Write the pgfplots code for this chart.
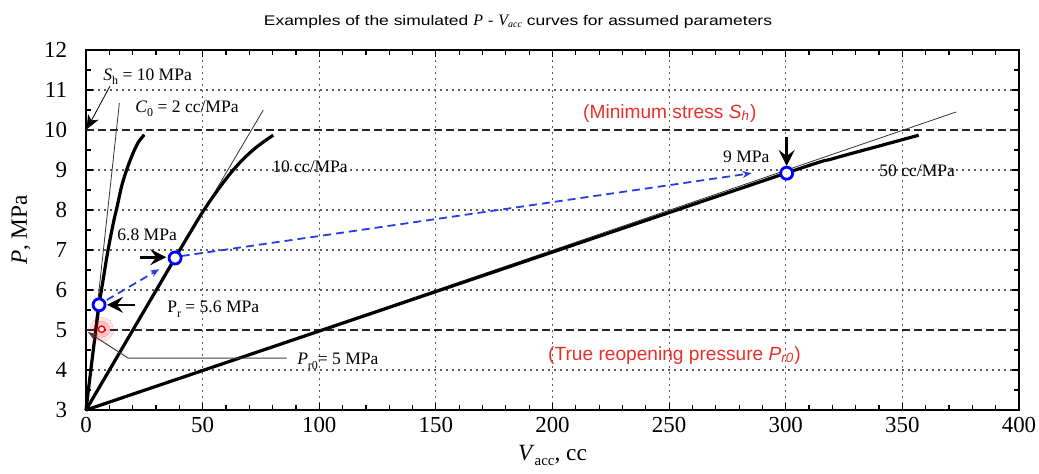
\documentclass[border=0pt]{standalone}
\usepackage{fontspec}
\setmainfont{Liberation Serif}
\newfontfamily\sansfont{Liberation Sans}
\newfontfamily\titlesans{Liberation Sans}[FakeStretch=1.25]
\usepackage{pgfplots}
\pgfplotsset{compat=1.18}
\usetikzlibrary{arrows.meta}
\definecolor{annred}{RGB}{232,48,40}
\definecolor{dblue}{RGB}{40,60,230}
\definecolor{gridgray}{RGB}{90,90,90}
\newcommand{\annfont}{\fontsize{8.8}{10}\selectfont}
\newcommand{\redfont}{\sansfont\fontsize{9.6}{11}\selectfont}
\newcommand{\sub}[1]{\raisebox{-0.6ex}{\fontsize{6}{7}\selectfont #1}}
\newcommand{\bsub}[1]{\raisebox{-0.55ex}{\fontsize{7.5}{8}\selectfont #1}}
\begin{document}
\begin{tikzpicture}
\begin{axis}[
  name=ax,
  scale only axis,
  width=466.5bp, height=180bp,
  xmin=0, xmax=400, ymin=3, ymax=12,
  xtick={0,50,...,400}, ytick={3,4,...,12},
  minor x tick num=4, minor y tick num=1,
  tick align=inside,
  xtick pos=both, ytick pos=both,
  major tick length=3.5bp, minor tick length=2.5bp,
  every tick/.style={black, line width=0.6bp},
  grid=major,
  major grid style={gridgray, line width=0.6bp, dash pattern=on 0.8bp off 2.2bp},
  axis line style={line width=0.9bp},
  tick label style={font=\fontsize{11.5}{12}\selectfont},
  yticklabel style={xshift=-6bp},
  /pgf/number format/assume math mode=true,
  clip=false,
]
% dashed reference lines
\addplot[black!85, line width=1bp, dash pattern=on 4bp off 2bp] coordinates {(0,10) (400,10)};
\addplot[black!85, line width=1bp, dash pattern=on 4bp off 2bp] coordinates {(0,5) (400,5)};
% tangent thin lines
\addplot[black!80, line width=0.4bp] coordinates {(0,3) (14.3,10.67)};
\addplot[black!80, line width=0.4bp] coordinates {(0,3) (76,10.5)};
\addplot[black!80, line width=0.4bp] coordinates {(0,3) (373,10.45)};
% simulated curves
\addplot[black, line width=1.6bp, smooth] coordinates {
(0,3) (2.7,4.3) (5.6,5.62) (7.2,6.2) (9.0,6.85) (10.6,7.35) (12.0,7.75) (13.4,8.1) (15.3,8.6) (17.4,9.0) (20,9.4) (22.5,9.7) (25,9.88)};
\addplot[black, line width=1.6bp, smooth] coordinates {
(0,3) (38,6.78) (44.5,7.42) (50,7.95) (55.5,8.42) (61,8.85) (66.5,9.22) (72,9.52) (76.5,9.72) (80.3,9.87)};
\addplot[black, line width=1.6bp, smooth] coordinates {
(0,3) (150,5.96) (300,8.92) (320,9.28) (340,9.6) (357,9.87)};
% blue dashed arrows
\addplot[dblue, line width=0.9bp, dash pattern=on 4bp off 2.5bp, -{Stealth[length=4.5bp,width=3.5bp]}] coordinates {(8.9,5.75) (31.4,6.52)};
\addplot[dblue, line width=0.9bp, dash pattern=on 4bp off 2.5bp, -{Stealth[length=4.5bp,width=3.5bp]}] coordinates {(41,6.85) (285.3,8.92)};
% red marker with glow
\addplot[only marks, mark=*, mark size=6bp, mark options={red, opacity=0.10, line width=0pt}] coordinates {(6.7,5.02)};
\addplot[only marks, mark=*, mark size=4bp, mark options={red, opacity=0.15, line width=0pt}] coordinates {(6.7,5.02)};
\addplot[only marks, mark=*, mark size=1.6bp, mark options={draw=red, fill=white, line width=0.7bp}] coordinates {(6.7,5.02)};
% blue circles
\addplot[only marks, mark=*, mark size=3bp, mark options={draw=blue, fill=white, line width=1.4bp}] coordinates {(5.6,5.63) (38.2,6.8) (300.4,8.92)};
% black thick arrows
\addplot[black, line width=1.3bp, -{Stealth[length=8bp,width=8bp,inset=3bp]}] coordinates {(21,5.63) (9.0,5.63)};
\addplot[black, line width=1.3bp, -{Stealth[length=8bp,width=8bp,inset=3bp]}] coordinates {(23,6.82) (34.4,6.82)};
\addplot[black, line width=1.3bp, -{Stealth[length=8bp,width=8bp,inset=3bp]}] coordinates {(300.4,9.82) (300.4,9.1)};
% thin pointer arrows
\addplot[black, line width=0.4bp, -{Stealth[length=7bp,width=6bp,inset=2bp]}] coordinates {(10.3,11.1) (0.3,10.02)};
\addplot[black!75, line width=0.5bp, -{Stealth[length=5bp,width=3.5bp]}] coordinates {(86,4.3) (18,4.3) (0.8,4.95)};
% annotations
\begin{scope}[every node/.style={inner sep=0pt, anchor=base west}]
\node[font=\annfont] at (axis cs:7.3,11.25) {\textit{S}\sub{h} = 10 MPa};
\node[font=\annfont] at (axis cs:21,10.45) {\textit{C}\sub{0} = 2 cc/MPa};
\node[font=\annfont] at (axis cs:79.7,8.93) {10 cc/MPa};
\node[font=\annfont] at (axis cs:13.3,7.25) {6.8 MPa};
\node[font=\annfont] at (axis cs:34.7,5.43) {P\sub{r} = 5.6 MPa};
\node[font=\annfont] at (axis cs:90.4,4.13) {\textit{P}\sub{r0}= 5 MPa};
\node[font=\annfont] at (axis cs:273,9.2) {9 MPa};
\node[font=\annfont] at (axis cs:340,8.85) {50 cc/MPa};
\node[font=\redfont, text=annred] at (axis cs:213,10.3) {(Minimum stress \textit{S}\textsubscript{\textit{h}})};
\node[font=\redfont, text=annred] at (axis cs:198,4.25) {(True reopening pressure \textit{P}\textsubscript{\textit{r0}})};
\end{scope}
% axis labels and title
\node[anchor=base, font=\fontsize{11.7}{13}\selectfont] at ([yshift=-25bp]axis cs:200,3) {\textit{V}\bsub{acc}, cc};
\node[anchor=base, rotate=90, font=\fontsize{11.7}{13}\selectfont] at ([xshift=-29.5bp]axis cs:0,7.5) {\textit{P}, MPa};
\node[anchor=base, font=\titlesans\fontsize{7}{8}\selectfont] at ([yshift=12.5bp]axis cs:185.2,12) {Examples of the simulated {\rmfamily\itshape\fontsize{8}{9}\selectfont P} - {\rmfamily\itshape\fontsize{8}{9}\selectfont V}\raisebox{-0.4ex}{\rmfamily\itshape\fontsize{5}{6}\selectfont acc} curves for assumed parameters};
\end{axis}
\pgfresetboundingbox
\path[use as bounding box] ([xshift=-43bp,yshift=-31.5bp]ax.south west) rectangle ([xshift=10bp,yshift=25bp]ax.north east);
\end{tikzpicture}
\end{document}
